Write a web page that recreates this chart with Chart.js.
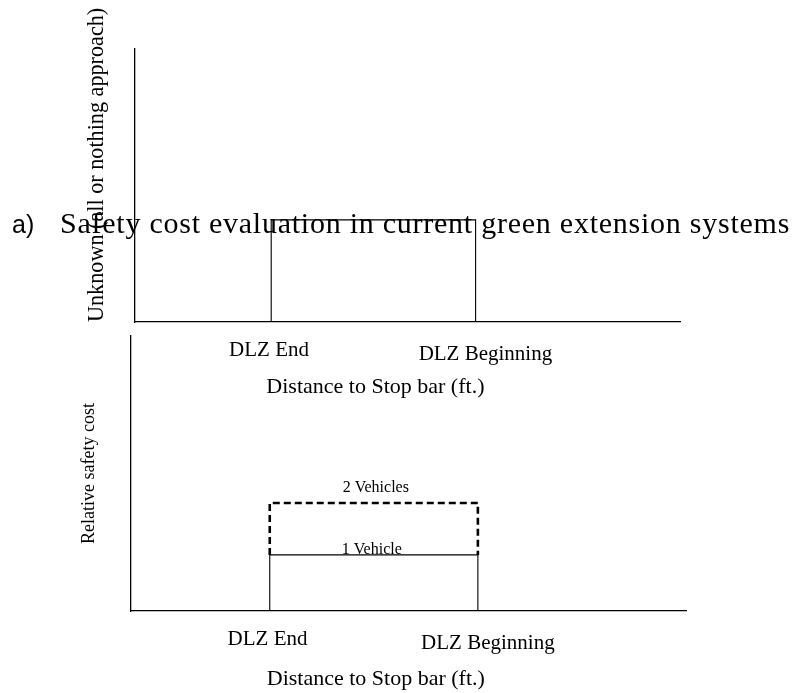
<!DOCTYPE html>
<html>
<head>
<meta charset="utf-8">
<script src="https://cdn.jsdelivr.net/npm/chart.js@4.4.1/dist/chart.umd.min.js"></script>
<style>
  html, body { margin: 0; padding: 0; background: #fff; }
  #wrap { position: relative; width: 798px; height: 693px; overflow: hidden; }
  canvas { position: absolute; left: 0; top: 0; }
  .cap { position: absolute; white-space: nowrap; color: #000; line-height: 1; }
  #capA { left: 12px; top: 212px; font: 25px "Liberation Sans", Arial, sans-serif; line-height: 25px; }
  #capB { left: 60px; top: 208px; font: 30px "Liberation Serif", "Times New Roman", serif; line-height: 30px; letter-spacing: 0.75px; }
</style>
</head>
<body>
<div id="wrap">
  <canvas id="top" width="798" height="693"></canvas>
  <canvas id="bottom" width="798" height="693"></canvas>
  <div class="cap" id="capA">a)</div>
  <div class="cap" id="capB">Safety cost evaluation in current green extension systems</div>
</div>
<script>
// ---- data ----
const xCategoryLabels = ['DLZ End', 'DLZ Beginning'];
const xCategoryLabelPositions = [24.6, 64.3];   // where each label is centred
const xAxisTitle = 'Distance to Stop bar (ft.)';
const topYTitle = 'Unknown (all or nothing approach)';
const bottomYTitle = 'Relative safety cost';

const topStepX = [25, 25, 62.5, 62.5];
const topStepY = [0, 37.4, 37.4, 0];

const oneVehicleX = [25, 25, 62.5, 62.5];
const oneVehicleY = [0, 20.4, 20.4, 0];
const twoVehiclesX = [25, 25, 62.5, 62.5];
const twoVehiclesY = [20.4, 39.3, 39.3, 20.4];
const seriesNames = ['1 Vehicle', '2 Vehicles'];

// ---- helpers ----
const toPoints = (xs, ys) => xs.map((x, i) => ({ x: x, y: ys[i] }));
const SERIF = '"Liberation Serif", "Times New Roman", serif';
const X_SCALE_HEIGHT = 80;

const textPlugin = {
  id: 'extraText',
  afterDraw(chart, args, opts) {
    const ctx = chart.ctx;
    const xs = chart.scales.x, ys = chart.scales.y;
    const ca = chart.chartArea;
    ctx.save();
    ctx.fillStyle = '#000';
    ctx.textAlign = 'center';
    ctx.textBaseline = 'alphabetic';
    const midX = (xs.getPixelForValue(topStepX[0]) + xs.getPixelForValue(topStepX[2])) / 2;
    ctx.font = '22px ' + SERIF;
    ctx.fillText(xAxisTitle, midX + 2, ca.bottom + opts.titleOffset);
    (opts.seriesLabels || []).forEach(s => {
      ctx.font = '16px ' + SERIF;
      ctx.fillText(s.text, midX + s.dx, ys.getPixelForValue(s.value) - s.gap);
    });
    ctx.restore();
  }
};

function makeOptions(pad, yTitle, yTitleFont, yTitleAlign, yTitlePad, pluginOpts) {
  return {
    responsive: false,
    animation: false,
    devicePixelRatio: 1,
    layout: { padding: pad },
    plugins: { legend: { display: false }, tooltip: { enabled: false }, extraText: pluginOpts },
    elements: { point: { radius: 0 }, line: { tension: 0 } },
    scales: {
      x: {
        type: 'linear', min: 0, max: 100,
        grid: { display: false, drawTicks: false },
        border: { display: true, color: '#000', width: 1.3 },
        afterBuildTicks: (s) => { s.ticks = xCategoryLabelPositions.map(v => ({ value: v })); },
        afterFit: (s) => { s.height = X_SCALE_HEIGHT; },
        ticks: {
          autoSkip: false, maxRotation: 0, padding: 15.4, color: '#000',
          callback: (v, i) => xCategoryLabels[i],
          font: (c) => ({ family: SERIF, size: 21, lineHeight: c.index === 1 ? 1.66 : 1.2 })
        }
      },
      y: {
        type: 'linear', min: 0, max: 100,
        grid: { display: false, drawTicks: false },
        border: { display: true, color: '#000', width: 1.3 },
        ticks: { display: false },
        title: {
          display: true, text: yTitle, color: '#000', align: yTitleAlign,
          font: { family: SERIF, size: yTitleFont, lineHeight: 1.2 },
          padding: yTitlePad
        }
      }
    }
  };
}

new Chart(document.getElementById('top'), {
  type: 'line',
  data: {
    datasets: [{
      label: 'All or nothing',
      data: toPoints(topStepX, topStepY),
      borderColor: '#000', borderWidth: 1.1, fill: false, clip: 4
    }]
  },
  options: makeOptions({ left: 80.3, right: 118, top: 49, bottom: 693 - 322 - X_SCALE_HEIGHT },
    topYTitle, 22.2, 'start', { top: 4, bottom: 24 },
    { titleOffset: 71, seriesLabels: [] }),
  plugins: [textPlugin]
});

new Chart(document.getElementById('bottom'), {
  type: 'line',
  data: {
    datasets: [{
      label: seriesNames[0],
      data: toPoints(oneVehicleX, oneVehicleY),
      borderColor: '#000', borderWidth: 1.1, fill: false, clip: 4
    }, {
      label: seriesNames[1],
      data: toPoints(twoVehiclesX, twoVehiclesY),
      borderColor: '#000', borderWidth: 2.6, borderDash: [7, 4], fill: false, clip: 4
    }]
  },
  options: makeOptions({ left: 74.7, right: 112, top: 336, bottom: 693 - 611 - X_SCALE_HEIGHT },
    bottomYTitle, 18, 'center', { top: 4, bottom: 30.7 },
    { titleOffset: 74, seriesLabels: [
      { text: seriesNames[1], value: twoVehiclesY[1], gap: 11, dx: 2 },
      { text: seriesNames[0], value: oneVehicleY[1], gap: 1, dx: -2 }
    ] }),
  plugins: [textPlugin]
});
</script>
</body>
</html>
